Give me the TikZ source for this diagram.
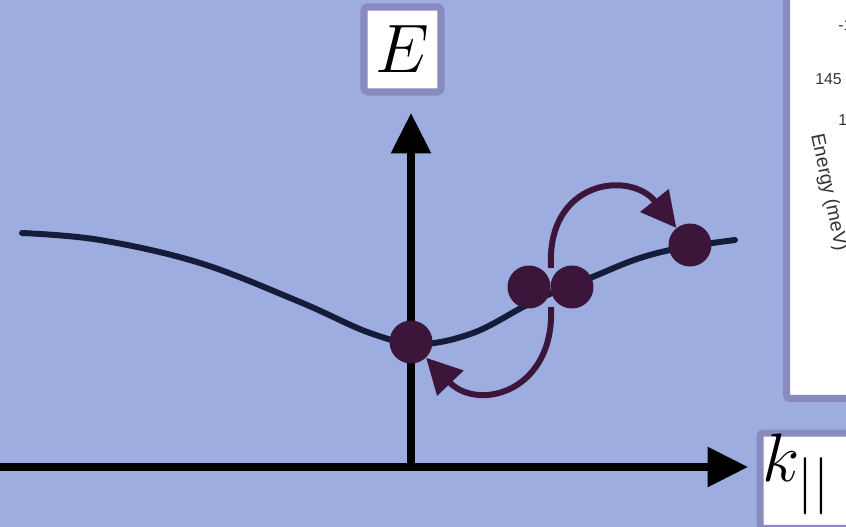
\documentclass[tikz,border=0pt]{standalone}
\usepackage{fontspec}
\newfontfamily\plotfont{Liberation Sans}
\usetikzlibrary{arrows.meta, positioning}
\definecolor{slidebg}{RGB}{157,173,223}
\definecolor{frameedge}{RGB}{137,139,190}
\definecolor{bandline}{RGB}{21,28,58}
\definecolor{electron}{RGB}{59,21,58}

\begin{document}
\begin{tikzpicture}[
    x=0.02cm, y=-0.02cm,
    axis/.style={line width=4pt, -{Triangle[length=23pt, width=22pt]}},
    hop/.style={line width=3.4pt, draw=electron, -{Triangle[length=20pt, width=20pt]}},
    dot/.style={circle, fill=electron, minimum size=0.86cm, inner sep=0pt},
    labelbox/.style={draw=frameedge, fill=white, line width=4pt, rounded corners=2pt, inner sep=0pt},
    axislabel/.style={font=\Huge, scale=1.57},
    plottext/.style={font=\plotfont\fontsize{9}{10}\selectfont, text=black!80, inner sep=0pt}
]
    \clip (0,0) rectangle (846,527);
    \fill[slidebg] (0,0) rectangle (846,527);

    \draw[labelbox, fill=white] (786.5,-20) rectangle (900,398.5);
    \node[plottext, anchor=west] (tickA) at (838,25) {-1};
    \node[plottext, anchor=west] (tickB) at (815,79) {145};
    \node[plottext, anchor=west] (tickC) at (838,120) {1};
    \node[plottext, anchor=west, rotate=-78, font=\plotfont\fontsize{11}{12}\selectfont] (ylab) at (816,134) {Energy (meV)};

    \coordinate (origin) at (411,467);
    \coordinate (xend) at (748,467);
    \coordinate (yend) at (411,113);
    \draw[axis] (-10,467) -- (xend);
    \draw[axis] (origin) -- (yend);

    \node[labelbox, minimum width=1.54cm, minimum height=1.7cm] (ebox) at (402.5,49.5) {};
    \node[axislabel] (elab) at (402.5,49) {$E$};
    \node[labelbox, anchor=north west, minimum width=2.2cm, minimum height=1.91cm] (kbox) at (756.5,429.5) {};
    \node[axislabel] (klab) at (797,474) {$k_{||}$};

    \draw[bandline, line width=3.4pt, line cap=round] plot[smooth, tension=0.6] coordinates {
        (22,233) (100,240) (200,263) (300,302) (370,333) (420,344) (473,333)
        (523,307) (552,293) (590,278) (637,259) (680,248) (735,240)};

    \node[dot] (e1) at (411,342) {};
    \node[dot] (e2) at (529,287) {};
    \node[dot] (e3) at (572,287) {};
    \node[dot] (e4) at (690,245) {};

    \coordinate (upstart) at (551,268);
    \coordinate (downstart) at (551,307);
    \draw[hop] (upstart) .. controls (546,180) and (630,170) .. (e4);
    \draw[hop] (downstart) .. controls (555,392) and (478,412) .. (e1);
\end{tikzpicture}
\end{document}
